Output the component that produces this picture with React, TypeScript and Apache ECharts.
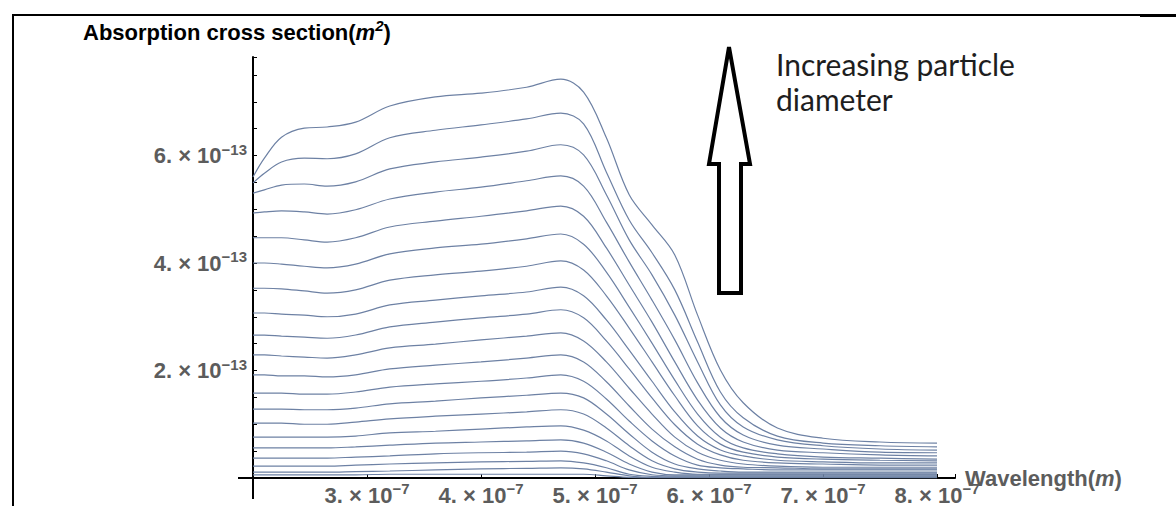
import React, { useEffect, useRef } from "react";
import * as echarts from "echarts";

// wavelength in units of 1e-7 m
const wavelengths = [2.0, 2.1, 2.25, 2.45, 2.65, 2.9, 3.2, 3.6, 4.0, 4.4, 4.7, 4.9, 5.1, 5.3, 5.5, 5.7, 5.9, 6.1, 6.3, 6.6, 7.0, 7.5, 8.0];

// absorption cross section in units of 1e-13 m^2, one array per particle diameter (largest = size20)
const size20 = [5.60, 5.95, 6.34, 6.51, 6.53, 6.62, 6.92, 7.09, 7.16, 7.27, 7.42, 7.18, 6.33, 5.27, 4.71, 4.15, 3.03, 2.01, 1.40, 0.93, 0.74, 0.67, 0.65];
const size19 = [5.49, 5.67, 5.88, 5.95, 5.94, 6.03, 6.33, 6.47, 6.57, 6.68, 6.79, 6.59, 5.69, 4.80, 4.19, 3.50, 2.53, 1.60, 1.12, 0.78, 0.65, 0.60, 0.58];
const size18 = [5.30, 5.36, 5.45, 5.47, 5.43, 5.51, 5.75, 5.88, 5.97, 6.08, 6.20, 6.01, 5.27, 4.43, 3.78, 3.03, 2.16, 1.36, 0.95, 0.71, 0.60, 0.54, 0.52];
const size17 = [4.93, 4.95, 4.97, 4.95, 4.91, 4.99, 5.19, 5.32, 5.41, 5.53, 5.62, 5.43, 4.76, 4.02, 3.31, 2.57, 1.77, 1.13, 0.80, 0.61, 0.54, 0.48, 0.47];
const size16 = [4.47, 4.47, 4.47, 4.43, 4.39, 4.47, 4.67, 4.78, 4.87, 4.97, 5.06, 4.87, 4.28, 3.59, 2.90, 2.16, 1.45, 0.93, 0.67, 0.52, 0.47, 0.43, 0.41];
const size15 = [4.00, 4.00, 3.98, 3.94, 3.91, 3.98, 4.17, 4.28, 4.35, 4.45, 4.54, 4.35, 3.83, 3.18, 2.51, 1.82, 1.19, 0.76, 0.56, 0.45, 0.39, 0.37, 0.35];
const size14 = [3.53, 3.53, 3.52, 3.48, 3.44, 3.50, 3.68, 3.78, 3.85, 3.94, 4.04, 3.87, 3.39, 2.79, 2.16, 1.53, 0.97, 0.63, 0.48, 0.39, 0.35, 0.33, 0.32];
const size13 = [3.07, 3.07, 3.05, 3.03, 3.00, 3.05, 3.22, 3.31, 3.39, 3.46, 3.55, 3.39, 2.94, 2.38, 1.80, 1.23, 0.78, 0.52, 0.41, 0.33, 0.30, 0.28, 0.28];
const size12 = [2.66, 2.66, 2.64, 2.62, 2.60, 2.66, 2.81, 2.90, 2.98, 3.05, 3.13, 2.98, 2.55, 2.03, 1.49, 0.99, 0.63, 0.43, 0.33, 0.28, 0.26, 0.24, 0.24];
const size11 = [2.29, 2.29, 2.27, 2.25, 2.23, 2.29, 2.42, 2.49, 2.57, 2.64, 2.70, 2.55, 2.16, 1.67, 1.19, 0.76, 0.48, 0.33, 0.26, 0.22, 0.20, 0.20, 0.20];
const size10 = [1.92, 1.92, 1.90, 1.90, 1.88, 1.92, 2.03, 2.10, 2.16, 2.23, 2.29, 2.16, 1.79, 1.34, 0.91, 0.58, 0.35, 0.24, 0.20, 0.19, 0.17, 0.17, 0.17];
const size09 = [1.58, 1.58, 1.58, 1.56, 1.56, 1.60, 1.69, 1.75, 1.80, 1.86, 1.92, 1.80, 1.47, 1.06, 0.69, 0.41, 0.24, 0.19, 0.17, 0.15, 0.15, 0.15, 0.15];
const size08 = [1.28, 1.28, 1.28, 1.27, 1.27, 1.30, 1.38, 1.43, 1.49, 1.54, 1.58, 1.49, 1.19, 0.82, 0.48, 0.26, 0.17, 0.13, 0.11, 0.11, 0.11, 0.11, 0.11];
const size07 = [1.02, 1.02, 1.02, 1.00, 1.00, 1.04, 1.10, 1.15, 1.19, 1.23, 1.27, 1.19, 0.93, 0.60, 0.32, 0.17, 0.11, 0.09, 0.09, 0.09, 0.09, 0.09, 0.09];
const size06 = [0.76, 0.76, 0.76, 0.76, 0.76, 0.78, 0.84, 0.87, 0.91, 0.95, 0.97, 0.89, 0.69, 0.41, 0.20, 0.11, 0.07, 0.07, 0.07, 0.07, 0.07, 0.07, 0.07];
const size05 = [0.56, 0.56, 0.56, 0.56, 0.56, 0.58, 0.61, 0.65, 0.67, 0.69, 0.71, 0.65, 0.48, 0.26, 0.11, 0.06, 0.06, 0.06, 0.06, 0.06, 0.06, 0.06, 0.06];
const size04 = [0.37, 0.37, 0.37, 0.37, 0.37, 0.39, 0.41, 0.45, 0.47, 0.48, 0.50, 0.45, 0.32, 0.15, 0.06, 0.04, 0.04, 0.04, 0.04, 0.04, 0.04, 0.04, 0.04];
const size03 = [0.22, 0.22, 0.22, 0.22, 0.22, 0.24, 0.26, 0.28, 0.30, 0.31, 0.32, 0.28, 0.19, 0.07, 0.03, 0.02, 0.02, 0.02, 0.02, 0.02, 0.02, 0.02, 0.02];
const size02 = [0.11, 0.11, 0.11, 0.11, 0.11, 0.12, 0.13, 0.15, 0.17, 0.18, 0.19, 0.17, 0.11, 0.04, 0.01, 0.01, 0.01, 0.01, 0.01, 0.01, 0.01, 0.01, 0.01];
const size01 = [0.06, 0.06, 0.06, 0.06, 0.06, 0.06, 0.07, 0.07, 0.07, 0.07, 0.07, 0.07, 0.04, 0.01, 0.00, 0.00, 0.00, 0.00, 0.00, 0.00, 0.00, 0.00, 0.00];

const curves = [size01, size02, size03, size04, size05, size06, size07, size08, size09, size10,
  size11, size12, size13, size14, size15, size16, size17, size18, size19, size20];

const xTickLabels = [3, 4, 5, 6, 7, 8]; // × 10^-7
const yTickLabels = [2, 4, 6]; // × 10^-13

const FONT = "'Liberation Sans', Arial, sans-serif";
const LABEL = "#5c5c5c";
const LINE = "#6d81a4";

const tickRich = {
  m: { fontSize: 22, fontWeight: "bold", color: LABEL, fontFamily: FONT, lineHeight: 28 },
  s: { fontSize: 15, fontWeight: "bold", color: LABEL, fontFamily: FONT, lineHeight: 19, verticalAlign: "top" },
};

const nameRich = {
  t: { fontSize: 22, fontWeight: "bold", color: LABEL, fontFamily: FONT, lineHeight: 28 },
  i: { fontSize: 22, fontWeight: "bold", fontStyle: "italic", color: LABEL, fontFamily: FONT, lineHeight: 28 },
  s: { fontSize: 15, fontWeight: "bold", fontStyle: "italic", color: LABEL, fontFamily: FONT, lineHeight: 19, verticalAlign: "top" },
};

function near(v: number, list: number[]) {
  const r = Math.round(v * 1000) / 1000;
  return list.find((t) => Math.abs(t - r) < 1e-6);
}

export default function App() {
  const ref = useRef<HTMLDivElement>(null);
  useEffect(() => {
    const chart = echarts.init(ref.current!, null, { renderer: "svg" });
    const series = curves.map((c, k) => ({
      type: "line",
      name: "d" + (k + 1),
      data: wavelengths.map((x, i) => [x, c[i]]),
      showSymbol: false,
      smooth: 0.35,
      lineStyle: { color: LINE, width: 1.2 },
      silent: true,
      z: 2,
    }));
    chart.setOption({
      animation: false,
      backgroundColor: "#ffffff",
      grid: { left: 253, top: 57, width: 702, height: 421, containLabel: false, outerBoundsMode: "none" },
      xAxis: {
        type: "value",
        min: 2,
        max: 2 + 702 / 114,
        interval: 1,
        name: "{t|Wavelength(}{i|m}{t|)}",
        nameLocation: "end",
        nameGap: 10,
        nameMoveOverlap: false,
        nameTextStyle: { rich: nameRich, verticalAlign: "middle", align: "left" },
        axisLine: { show: true, onZero: false, lineStyle: { color: "#000", width: 2 } },
        axisTick: { show: true, inside: true, length: 4, lineStyle: { color: "#000", width: 1 } },
        axisLabel: {
          margin: 3,
          rich: tickRich,
          formatter: (v: number) => {
            const t = near(v, xTickLabels);
            return t === undefined ? "" : `{m|${t}. × 10}{s|−7}`;
          },
        },
        splitLine: { show: false },
      },
      yAxis: {
        type: "value",
        min: 0,
        max: 421 / 53.75,
        interval: 0.5,
        axisLine: { show: true, onZero: false, lineStyle: { color: "#000", width: 2 } },
        axisTick: { show: true, inside: true, length: 4, lineStyle: { color: "#000", width: 1 } },
        axisLabel: {
          margin: 6,
          rich: tickRich,
          formatter: (v: number) => {
            const t = near(v, yTickLabels);
            return t === undefined ? "" : `{m|${t}. × 10}{s|−13}`;
          },
        },
        splitLine: { show: false },
      },
      series,
      graphic: [
        // frame
        { type: "line", shape: { x1: 12, y1: 15, x2: 1140, y2: 15 }, style: { stroke: "#000", lineWidth: 2 } },
        { type: "line", shape: { x1: 1140, y1: 15.5, x2: 1176, y2: 15.5 }, style: { stroke: "#000", lineWidth: 3 } },
        { type: "line", shape: { x1: 13, y1: 14, x2: 13, y2: 506 }, style: { stroke: "#000", lineWidth: 2 } },
        // axis extensions (Mathematica style crossing)
        { type: "line", shape: { x1: 238, y1: 478, x2: 253, y2: 478 }, style: { stroke: "#000", lineWidth: 2 } },
        { type: "line", shape: { x1: 253, y1: 478, x2: 253, y2: 499 }, style: { stroke: "#000", lineWidth: 2 } },
        // y axis title
        {
          type: "text",
          x: 83,
          y: 32,
          style: {
            text: "{t|Absorption cross section(}{i|m}{s|2}{t|)}",
            rich: nameRich,
            verticalAlign: "middle",
            align: "left",
          },
        },
        // arrow
        {
          type: "polygon",
          shape: {
            points: [[729, 47], [750, 164], [741, 164], [741, 293], [719, 293], [719, 164], [709, 164]],
          },
          style: { fill: "#fff", stroke: "#000", lineWidth: 4, lineJoin: "miter" },
          z: 10,
        },
        {
          type: "text",
          x: 776,
          y: 46,
          style: {
            text: "Increasing particle\ndiameter",
            fontSize: 30,
            fontFamily: "Lato, 'Noto Sans', sans-serif",
            lineHeight: 35,
            fill: "#1e1e1e",
            verticalAlign: "top",
            align: "left",
          },
        },
      ],
    });
    return () => chart.dispose();
  }, []);
  return (
    <div
      ref={ref}
      style={{ position: "fixed", left: 0, top: 0, width: 1176, height: 506, background: "#fff" }}
    />
  );
}
